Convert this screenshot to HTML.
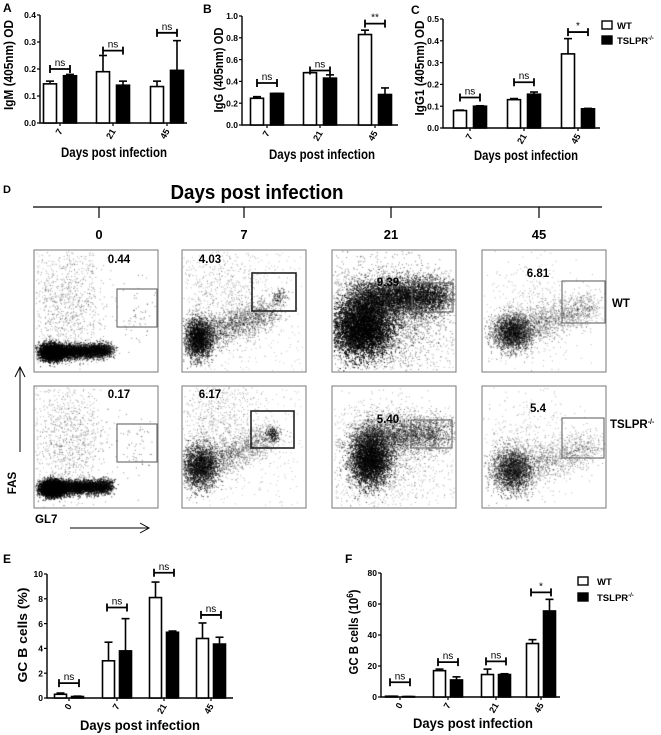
<!DOCTYPE html>
<html><head><meta charset="utf-8"><style>
html,body{margin:0;padding:0;background:#fff;}
#wrap{position:relative;width:661px;height:735px;overflow:hidden;}
svg{position:absolute;left:0;top:0;}
canvas{position:absolute;left:0;top:0;}
text{font-family:"Liberation Sans",Arial,sans-serif;font-weight:bold;fill:#000;}
</style></head><body>
<div id="wrap">
<canvas id="dots" width="661" height="735"></canvas>
<svg id="fig" width="661" height="735" xmlns="http://www.w3.org/2000/svg"></svg>
</div>
<script>
// ---- Panel A (IgM) ----
const catsABC = ["7","21","45"];
const igmWT = [0.145,0.19,0.135];
const igmKO = [0.175,0.14,0.195];
const igmWTerr = [0.155,0.25,0.155];
const igmKOerr = [0.18,0.155,0.305];
const igmSigY = [0.2,0.268,0.334];
const igmSig = ["ns","ns","ns"];
const igmTicks = ["0.0","0.1","0.2","0.3","0.4"];
// ---- Panel B (IgG) ----
const iggWT = [0.245,0.48,0.83];
const iggKO = [0.29,0.43,0.28];
const iggWTerr = [0.26,0.48,0.87];
const iggKOerr = [0.29,0.46,0.34];
const iggSigY = [0.385,0.5,0.93];
const iggSig = ["ns","ns","**"];
const iggTicks = ["0.0","0.2","0.4","0.6","0.8","1.0"];
// ---- Panel C (IgG1) ----
const igg1WT = [0.08,0.13,0.34];
const igg1KO = [0.10,0.155,0.088];
const igg1WTerr = [0.082,0.135,0.41];
const igg1KOerr = [0.102,0.165,0.09];
const igg1SigY = [0.14,0.21,0.44];
const igg1Sig = ["ns","ns","*"];
const igg1Ticks = ["0.0","0.1","0.2","0.3","0.4","0.5"];
// ---- Panel E (GC B %) ----
const catsEF = ["0","7","21","45"];
const gcpWT = [0.3,3.0,8.1,4.8];
const gcpKO = [0.12,3.8,5.3,4.35];
const gcpWTerr = [0.4,4.5,9.35,6.05];
const gcpKOerr = [0.15,6.4,5.4,4.9];
const gcpSigY = [1.2,7.3,10.1,6.7];
const gcpSig = ["ns","ns","ns","ns"];
const gcpTicks = ["0","2","4","6","8","10"];
// ---- Panel F (GC B count) ----
const gcnWT = [0.5,17,14.5,34.5];
const gcnKO = [0.3,11,14.5,55.5];
const gcnWTerr = [0.5,18,18,37];
const gcnKOerr = [0.3,13,15,63];
const gcnSigY = [9.5,22.5,23,67.5];
const gcnSig = ["ns","ns","ns","*"];
const gcnTicks = ["0","20","40","60","80"];
// ---- Panel D (flow percentages) ----
const flowDays = ["0","7","21","45"];
const flowWT = ["0.44","4.03","9.39","6.81"];
const flowKO = ["0.17","6.17","5.40","5.4"];

const NS="http://www.w3.org/2000/svg";
const svg=document.getElementById('fig');
function el(tag,attrs,parent,txt){const e=document.createElementNS(NS,tag);for(const k in attrs)e.setAttribute(k,attrs[k]);if(txt!==undefined)e.textContent=txt;(parent||svg).appendChild(e);return e;}

function barChart(o){
  const g=el('g',{});
  
  
  const ymax=o.ymax;
  const y=v=>o.y0-(v/ymax)*(o.y0-o.y1);
  const xs=o.centers;
  const ax=el('path',{d:`M${o.x0} ${o.y1} L${o.x0} ${o.y0} L${o.xEnd} ${o.y0}`,stroke:'#000','stroke-width':1.4,fill:'none'},g);
  
  o.ticks.forEach((t,i)=>{
    const v=ymax*i/(o.ticks.length-1);const py=y(v);
    el('line',{x1:o.x0-3,x2:o.x0,y1:py,y2:py,stroke:'#000','stroke-width':1.2},g);
    const tt=el('text',{x:o.x0-4,y:py+3.2,'font-size':8.5,'text-anchor':'end'},g,t);
    
  });
  const bw=o.bw,off=o.off;
  o.cats.forEach((c,i)=>{
    const cx=xs[i];
    el('line',{x1:cx,x2:cx,y1:o.y0,y2:o.y0+3,stroke:'#000','stroke-width':1.2},g);
    const tl=el('text',{x:cx+3,y:o.y0+8,'font-size':9,'text-anchor':'end',transform:`rotate(-60 ${cx+3} ${o.y0+8})`},g,c);
    
    [[o.wt,o.wtErr,'#fff',-off],[o.ko,o.koErr,'#000',off]].forEach(([vals,errs,fill,d],k)=>{
      const bx=cx+d-bw/2;const top=y(vals[i]);
      const et=y(errs[i]);
      el('line',{x1:cx+d,x2:cx+d,y1:top,y2:et,stroke:'#000','stroke-width':1.6},g);
      el('line',{x1:cx+d-4,x2:cx+d+4,y1:et,y2:et,stroke:'#000','stroke-width':1.6},g);
      const r=el('rect',{x:bx,y:top,width:bw,height:o.y0-top,fill:fill,stroke:'#000','stroke-width':1.6},g);
      
      
    });
    const sy=y(o.sigY[i]);
    const br=el('path',{d:`M${cx-10} ${sy-4} L${cx-10} ${sy+4} M${cx-10} ${sy} L${cx+10} ${sy} M${cx+10} ${sy-4} L${cx+10} ${sy+4}`,stroke:'#000','stroke-width':1.8,fill:'none'},g);
    
    const st=el('text',{x:cx,y:sy-3,'font-size':10,'text-anchor':'middle',style:'font-weight:normal'},g,o.sig[i]);
    
  });
  const ym=o.ytcy;
  const yl=el('text',{x:o.ytx,y:ym,'font-size':13,'text-anchor':'middle',textLength:o.ytlen,lengthAdjust:'spacingAndGlyphs',transform:`rotate(-90 ${o.ytx} ${ym})`},g,o.ytitle);
  
  if(o.ysup){el('tspan',{dy:-5,'font-size':9},yl,o.ysup);el('tspan',{dy:5},yl,')');}
  const xl=el('text',{x:o.xtx,y:o.xty,'font-size':14,'text-anchor':'middle',textLength:o.xtlen,lengthAdjust:'spacingAndGlyphs'},g,'Days post infection');
  
  const pl=el('text',{x:o.lx,y:o.ly,'font-size':12},g,o.letter);
  
}

function legend(x,y,gap,tx){
  const g=el('g',{});
  
  const a=el('rect',{x:x,y:y-4,width:10,height:8,fill:'#fff',stroke:'#000','stroke-width':1.4},g);
  
  const t1=el('text',{x:tx,y:y+4,'font-size':9.5},g,'WT');
  
  const b=el('rect',{x:x,y:y+gap-4,width:10,height:8,fill:'#000',stroke:'#000','stroke-width':1.4},g);
  
  const t2=el('text',{x:tx,y:y+gap+4,'font-size':9.5},g,'TSLPR');
  
  el('tspan',{dy:-4,'font-size':6},t2,'-/-');
}

barChart({name:'panel-a-igm',letter:'A',lx:3,ly:12,x0:40,xEnd:187,y0:123,y1:15,ymax:0.4,centers:[60,113,167],bw:13,off:10,cats:catsABC,wt:igmWT,ko:igmKO,wtErr:igmWTerr,koErr:igmKOerr,sigY:igmSigY,sig:igmSig,ticks:igmTicks,ytitle:'IgM (405nm) OD',ytx:13,ytcy:65,ytlen:90,xtx:114,xty:157,xtlen:106});
barChart({name:'panel-b-igg',letter:'B',lx:203,ly:13,x0:242,xEnd:398,y0:125,y1:16,ymax:1.0,centers:[267,320,375],bw:13,off:10,cats:catsABC,wt:iggWT,ko:iggKO,wtErr:iggWTerr,koErr:iggKOerr,sigY:iggSigY,sig:iggSig,ticks:iggTicks,ytitle:'IgG (405nm) OD',ytx:223,ytcy:70,ytlen:85,xtx:322,xty:159,xtlen:106});
barChart({name:'panel-c-igg1',letter:'C',lx:411,ly:14,x0:443,xEnd:600,y0:128,y1:19,ymax:0.5,centers:[470,524,578],bw:13,off:10,cats:catsABC,wt:igg1WT,ko:igg1KO,wtErr:igg1WTerr,koErr:igg1KOerr,sigY:igg1SigY,sig:igg1Sig,ticks:igg1Ticks,ytitle:'IgG1 (405nm) OD',ytx:424,ytcy:68,ytlen:95,xtx:526,xty:160,xtlen:104});
legend(602,25,15,617);
barChart({name:'panel-e-gc-percent',letter:'E',lx:3,ly:563,x0:47,xEnd:233,y0:698,y1:574,ymax:10,centers:[69,117,164,211],bw:12,off:8.5,cats:catsEF,wt:gcpWT,ko:gcpKO,wtErr:gcpWTerr,koErr:gcpKOerr,sigY:gcpSigY,sig:gcpSig,ticks:gcpTicks,ytitle:'GC B cells (%)',ytx:27,ytcy:635,ytlen:95,xtx:140,xty:730,xtlen:120});
barChart({name:'panel-f-gc-count',letter:'F',lx:345,ly:563,x0:381,xEnd:560,y0:697,y1:573,ymax:80,centers:[400,448,496,541],bw:12,off:8.5,cats:catsEF,wt:gcnWT,ko:gcnKO,wtErr:gcnWTerr,koErr:gcnKOerr,sigY:gcnSigY,sig:gcnSig,ticks:gcnTicks,ytitle:'GC B cells (10',ysup:'6',ytx:358,ytcy:632,ytlen:85,xtx:473,xty:728,xtlen:120});
legend(578,581,16,597);

// ---- Panel D ----
const dg=el('g',{});

let t=el('text',{x:3,y:193,'font-size':11},dg,'D');

t=el('text',{x:257,y:199,'font-size':20,'text-anchor':'middle',textLength:173,lengthAdjust:'spacingAndGlyphs'},dg,'Days post infection');

el('line',{x1:33,x2:602,y1:207,y2:207,stroke:'#000','stroke-width':1.3},dg);
const bx=[34,182,332,482],bw=124;
const gatesTop=[[117,289,40,38],[252,273,44,38],[412,283,41,29],[562,281,43,42]];
const gatesBot=[[117,424,40,38],[251,411,43,37],[411,420,41,28],[562,418,42,40]];
const numX=[119,210,388,538];
const wtNumY=[263,263,286,277], koNumY=[398,398,423,412];
const tickX=[99,244,391,539];
flowDays.forEach((d,i)=>{
  const cx=tickX[i];
  el('line',{x1:cx,x2:cx,y1:207,y2:218,stroke:'#000','stroke-width':1.2},dg);
  let l=el('text',{x:cx,y:239,'font-size':13,'text-anchor':'middle'},dg,d);
  
  [[250,flowWT,gatesTop,wtNumY,'wt'],[386,flowKO,gatesBot,koNumY,'tslpr']].forEach(([top,vals,gates,ny,lab])=>{
    const r=el('rect',{x:bx[i],y:top,width:bw,height:122,fill:'none',stroke:'#777','stroke-width':1},dg);
    
    const gg=gates[i];
    const gr=el('rect',{x:gg[0],y:gg[1],width:gg[2],height:gg[3],fill:'none',stroke:i==1?'#222':'#666','stroke-width':i==1?1.6:1.1},dg);
    
    const nt=el('text',{x:numX[i],y:ny[i],'font-size':11.5,'text-anchor':'middle'},dg,vals[i]);
    
  });
});
t=el('text',{x:612,y:307,'font-size':11.5},dg,'WT');

t=el('text',{x:610,y:428,'font-size':11.5},dg,'TSLPR');

el('tspan',{dy:-4,'font-size':7},t,'-/-');
el('path',{d:'M20 452 L20 368 M15 377 L20 367 L25 377',stroke:'#000','stroke-width':1,fill:'none'},dg);
t=el('text',{x:16,y:483,'font-size':11.5,'text-anchor':'middle',transform:'rotate(-90 16 483)'},dg,'FAS');

t=el('text',{x:35,y:523,'font-size':11.5},dg,'GL7');

el('path',{d:'M70 528 L148 528 M140 523 L149 528 L140 533',stroke:'#000','stroke-width':1,fill:'none'},dg);

// flow dots (deterministic texture)
const ctx=document.getElementById('dots').getContext('2d');
let seed=12345;function rnd(){seed=(seed*1103515245+12345)&0x7fffffff;return seed/0x7fffffff;}
function gauss(){return Math.sqrt(-2*Math.log(rnd()+1e-9))*Math.cos(6.2832*rnd());}
ctx.fillStyle='#000';
let B=0,T=0;
function inb(x,y){return x>B+1&&x<B+123&&y>T+1&&y<T+121;}
function blob(cx,cy,sx,sy,n,a){for(let k=0;k<n;k++){const x=B+cx+gauss()*sx,y=T+cy+gauss()*sy;if(!inb(x,y))continue;ctx.globalAlpha=a;ctx.fillRect(x,y,1,1);}}
function band(x1,y1,x2,y2,s,n,a){for(let k=0;k<n;k++){const f=rnd();const x=B+x1+(x2-x1)*f+gauss()*s,y=T+y1+(y2-y1)*f+gauss()*s;if(!inb(x,y))continue;ctx.globalAlpha=a;ctx.fillRect(x,y,1,1);}}
function unif(x1,y1,x2,y2,n,a){for(let k=0;k<n;k++){const x=B+x1+(x2-x1)*rnd(),y=T+y1+(y2-y1)*rnd();if(!inb(x,y))continue;ctx.globalAlpha=a;ctx.fillRect(x,y,1,1);}}
const bxs=[34,182,332,482];
[250,386].forEach((top,row)=>{
  T=top;
  B=bxs[0];
  blob(18,102,6,4,3500,0.9);band(12,102,75,100,3.5,4000,0.8);blob(35,55,18,30,700,0.4);unif(2,2,60,100,250,0.3);blob(100,60,10,15,60,0.5);
  B=bxs[1];
  if(row==0){blob(16,88,7,10,2200,0.75);band(16,88,90,60,8,1500,0.5);blob(40,40,25,30,600,0.35);blob(97,47,4,4,100,0.7);unif(2,2,120,120,300,0.25);}
  else{blob(18,80,9,11,2200,0.7);band(18,80,90,50,8,1200,0.45);blob(35,30,22,30,700,0.35);blob(90,47,3,4,150,0.8);unif(2,2,120,120,300,0.25);}
  B=bxs[2];
  if(row==0){blob(30,78,15,14,7000,0.85);band(25,50,110,45,9,5000,0.75);blob(55,60,30,25,2500,0.5);unif(2,20,122,120,800,0.35);}
  else{blob(38,73,10,13,4000,0.8);band(30,50,110,47,9,2500,0.55);blob(50,65,25,25,1200,0.35);unif(2,20,122,120,400,0.3);}
  B=bxs[3];
  if(row==0){blob(30,82,10,9,2200,0.6);band(30,82,112,55,8,1300,0.4);blob(50,60,25,25,500,0.3);}
  else{blob(30,84,10,11,2200,0.6);band(30,84,112,60,9,1100,0.4);blob(45,60,25,25,500,0.3);}
});
ctx.globalAlpha=1;
</script>
</body></html>
